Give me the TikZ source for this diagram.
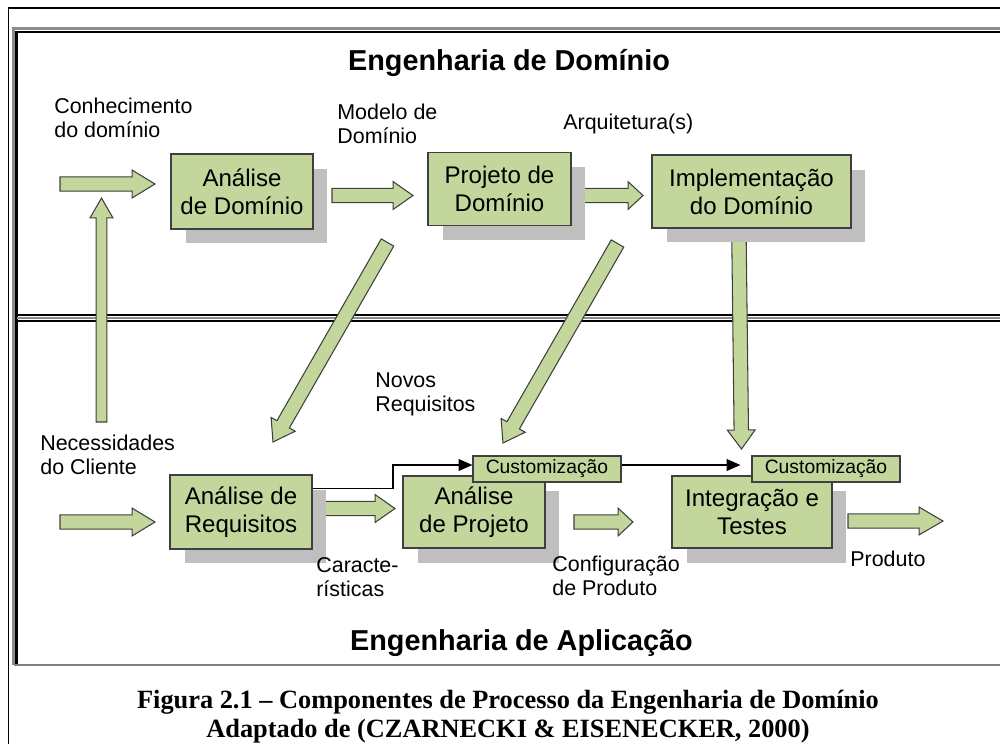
\documentclass[tikz,border=0pt]{standalone}
\usepackage{fontspec}
\setmainfont{Liberation Serif}
\setsansfont{Liberation Sans}
\usepackage{tikz}
\usetikzlibrary{calc,positioning,shadows,arrows.meta}
\definecolor{boxgreen}{HTML}{C3D69B}
\definecolor{boxline}{HTML}{3F3F3F}
\definecolor{shadowgray}{HTML}{BFBFBF}
\tikzset{
    procbox/.style={
    rectangle,draw=boxline,fill=boxgreen,line width=0.7pt,align=center,inner sep=0pt,
    font=\sffamily\fontsize{13.7}{16}\selectfont,
    drop shadow={shadow xshift=0.29cm,shadow yshift=-0.29cm,fill=shadowgray,opacity=1}
    },
    custbox/.style={
    rectangle,draw=boxline,fill=boxgreen,line width=0.7pt,inner sep=0pt,
    minimum width=2.96cm,minimum height=0.52cm,font=\sffamily\fontsize{11}{13}\selectfont
    },
    lbl/.style={anchor=north west,inner sep=0pt,align=left,font=\sffamily\fontsize{12.2}{13.6}\selectfont},
    headline/.style={anchor=base,inner sep=0pt,font=\sffamily\bfseries\fontsize{16.4}{19}\selectfont},
    figcap/.style={anchor=base,inner sep=0pt,font=\rmfamily\bfseries\fontsize{15}{18}\selectfont},
    fatarrow/.style={draw=boxline,fill=boxgreen,line width=0.6pt,line join=miter},
    custline/.style={draw,line width=0.6pt,-{Triangle[length=7.9pt,width=6.8pt]}}
}
\def\fatw{4.1pt}
\def\fath{7.9pt}
% #1 head length, #2 tail, #3 tip
\newcommand{\fatarrow}[3]{%
  \coordinate (fa) at ($(#3)!#1!(#2)$);
  \path[fatarrow] ($(#2)!\fatw!90:(#3)$) -- ($(fa)!\fatw!90:(#3)$) -- ($(fa)!\fath!90:(#3)$) -- (#3)
    -- ($(fa)!\fath!-90:(#3)$) -- ($(fa)!\fatw!-90:(#3)$) -- ($(#2)!\fatw!-90:(#3)$) -- cycle;}

\begin{document}
\begin{tikzpicture}[x=0.02cm,y=-0.02cm]
    \useasboundingbox (0,0) rectangle (1000,744);

    \draw[black,line width=1.1pt] (8.5,744) -- (8.5,8) -- (1000,8);
    \draw[black!45,line width=1.6pt] (13.5,665) -- (13.5,28.5) -- (1000,28.5);
    \draw[black,line width=1.2pt] (16.5,665) -- (16.5,32) -- (1000,32);
    \draw[black,line width=1.1pt] (16.5,315) -- (1000,315);
    \draw[black!45,line width=1.1pt] (16.5,318) -- (1000,318);
    \draw[black,line width=1.1pt] (16.5,321) -- (1000,321);
    \draw[black!50,line width=1.1pt] (13.5,665) -- (1000,665);

    \node[headline] (domeng) at (509,70) {Engenharia de Domínio};
    \node[headline] (appeng) at (521.5,650) {Engenharia de Aplicação};

    \coordinate (knowtail) at (60,184);   \coordinate (knowtip) at (155,184);
    \coordinate (needtail) at (101.5,422); \coordinate (needtip) at (101.5,198);
    \coordinate (modtail) at (332,195.5); \coordinate (modtip) at (413,195.5);
    \coordinate (archtail) at (583,195.5); \coordinate (archtip) at (643,195.5);
    \coordinate (newtail) at (387.5,242.5); \coordinate (newtip) at (273,442);
    \coordinate (reqtail) at (617.5,243.5); \coordinate (reqtip) at (503,443);
    \coordinate (imptail) at (739,240); \coordinate (imptip) at (741.5,449);
    \coordinate (clitail) at (60,522); \coordinate (clitip) at (155,522);
    \coordinate (feattail) at (313,508.5); \coordinate (feattip) at (395,508.5);
    \coordinate (conftail) at (574,522); \coordinate (conftip) at (633,522);
    \coordinate (prodtail) at (848,521); \coordinate (prodtip) at (943,521);

    \fatarrow{13pt}{knowtail}{knowtip}
    {\def\fatw{3.1pt}\def\fath{6.5pt}\fatarrow{11.3pt}{needtail}{needtip}}
    \fatarrow{11.3pt}{modtail}{modtip}
    \fatarrow{8.5pt}{archtail}{archtip}
    \fatarrow{11.6pt}{newtail}{newtip}
    \fatarrow{11.6pt}{reqtail}{reqtip}
    \fatarrow{10.8pt}{imptail}{imptip}
    \fatarrow{13pt}{clitail}{clitip}
    \fatarrow{11.3pt}{feattail}{feattip}
    \fatarrow{8.5pt}{conftail}{conftip}
    \fatarrow{13.6pt}{prodtail}{prodtip}

    \node[procbox,minimum width=2.84cm,minimum height=1.5cm] (anadom) at (242,191.5) {Análise\\de Domínio};
    \node[procbox,minimum width=2.86cm,minimum height=1.46cm] (projdom) at (499.5,189) {Projeto de\\Domínio};
    \node[procbox,minimum width=3.98cm,minimum height=1.46cm] (impdom) at (751.5,191.5) {Implementação\\do Domínio};
    \node[procbox,minimum width=2.84cm,minimum height=1.48cm] (anareq) at (241,512) {Análise de\\Requisitos};
    \node[procbox,minimum width=2.84cm,minimum height=1.44cm] (anaproj) at (474,512) {Análise\\de Projeto};
    \node[procbox,minimum width=3.2cm,minimum height=1.44cm] (integ) at (752,512) {Integração e\\Testes};

    \node[custbox] (cust1) at (547,469) {Customização};
    \node[custbox] (cust2) at (826,469) {Customização};

    \coordinate (knee) at (393,465);
    \begin{scope}[every path/.style=custline]
      \path ($(anareq.north east)+(0,14)$) -| (knee) -- (knee -| cust1.west);
      \path[shorten >=0.22cm] (cust1.east |- knee) -- (cust2.west |- knee);
    \end{scope}

    \node[lbl] (know) at (54,98) {Conhecimento\\do domínio};
    \node[lbl] (model) at (337,104) {Modelo de\\Domínio};
    \node[lbl] (arch) at (563,114) {Arquitetura(s)};
    \node[lbl] (novos) at (375,372) {Novos\\Requisitos};
    \node[lbl] (neces) at (40,435) {Necessidades\\do Cliente};
    \node[lbl] (caract) at (316,557) {Caracte-\\rísticas};
    \node[lbl] (config) at (552,556) {Configuração\\de Produto};
    \node[lbl] (prod) at (850,551) {Produto};

    \node[figcap] (cap1) at (508,708) {Figura 2.1 – Componentes de Processo da Engenharia de Domínio};
    \node[figcap] (cap2) at (508,737) {Adaptado de (CZARNECKI \& EISENECKER, 2000)};
\end{tikzpicture}
\end{document}
